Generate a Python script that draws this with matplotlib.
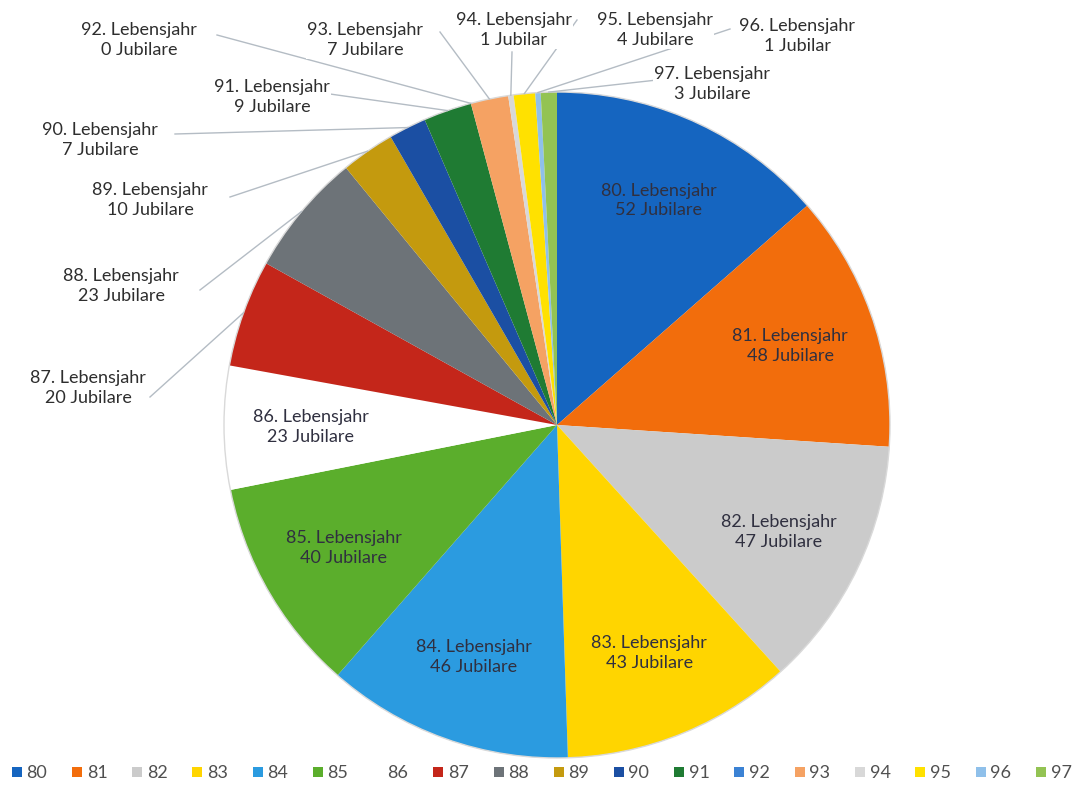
import numpy as np
import matplotlib
matplotlib.use("Agg")
import matplotlib.pyplot as plt

plt.rcParams['font.family'] = ['Lato', 'DejaVu Sans']

ages = [80, 81, 82, 83, 84, 85, 86, 87, 88, 89, 90, 91, 92, 93, 94, 95, 96, 97]
counts = [52, 48, 47, 43, 46, 40, 23, 20, 23, 10, 7, 9, 0, 7, 1, 4, 1, 3]
colors = ['#1565c0', '#f26d0c', '#cbcbcb', '#ffd500', '#2b9be0', '#5bae2c',
          '#ffffff', '#c4261a', '#6d7378', '#c49a0e', '#1b4fa3', '#1f7b33',
          '#3b82d4', '#f5a263', '#d8d8d8', '#ffe100', '#8fc0ea', '#93c353']

W, H = 1073, 794
cx, cy, R = 557, H - 425, 333

# label placement for the small slices (pixel coords, y from top)
outside = {
    87: ((88, 388), (150, 397)),
    88: ((121, 286), (200, 290)),
    89: ((150, 200), (230, 197)),
    90: ((100, 140), (175, 134)),
    91: ((272, 97), (330, 94)),
    92: ((139, 40), (217, 35)),
    93: ((365, 40), (440, 32)),
    94: ((514, 30), (512, 52)),
    95: ((655, 30), (577, 20)),
    96: ((797, 36), (730, 29)),
    97: ((712, 84), (657, 80)),
}

fig = plt.figure(figsize=(W / 100, H / 100), dpi=100)
ax = fig.add_axes([0, 0, 1, 1])

wedges, _ = ax.pie(counts, colors=colors, startangle=90, counterclock=False,
                   center=(cx, cy), radius=R, wedgeprops=dict(linewidth=0))
ax.add_patch(plt.Circle((cx, cy), R, fill=False, ec='#d9d9d9', lw=1))
ax.set_xlim(0, W)
ax.set_ylim(0, H)
ax.set_aspect('equal')
ax.axis('off')

for age, v, w in zip(ages, counts, wedges):
    txt = f"{age}. Lebensjahr\n{v} Jubilar" + ("" if v == 1 else "e")
    mid = np.deg2rad((w.theta1 + w.theta2) / 2)
    if age in outside:
        (tx, ty), (lx, ly) = outside[age]
        ex, ey = cx + R * np.cos(mid), cy + R * np.sin(mid)
        ax.plot([lx, ex], [H - ly, ey], color='#b4bcc4', lw=1, zorder=1)
        ax.text(tx, H - ty, txt, ha='center', va='center', fontsize=13,
                color='#2e2e2e', linespacing=1.3,
                bbox=dict(fc='white', ec='none', pad=0.5), zorder=3)
    else:
        tx, ty = cx + 0.74 * R * np.cos(mid), cy + 0.74 * R * np.sin(mid)
        ax.text(tx, ty, txt, ha='center', va='center', fontsize=13,
                color='#303040', linespacing=1.3)

fig.legend(wedges, [str(a) for a in ages], ncol=18, loc='lower center',
           bbox_to_anchor=(0.505, 0.0), frameon=False, fontsize=13,
           handlelength=0.55, handleheight=0.55, handletextpad=0.25,
           columnspacing=1.38, labelcolor='#505050', borderpad=0.2)

fig.savefig("out.png", dpi=100)
